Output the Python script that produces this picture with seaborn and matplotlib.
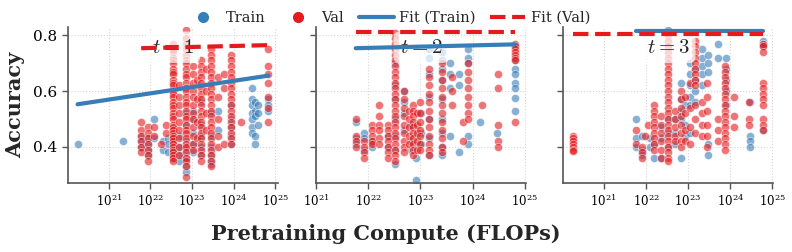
import numpy as np
import pandas as pd
import matplotlib
matplotlib.use("Agg")
import matplotlib.pyplot as plt
from matplotlib.lines import Line2D
import seaborn as sns

# each column is (log10 pretraining FLOPs, [accuracies of the models at that compute])
P1_TRAIN = [
    (20.25, [0.41]),
    (21.35, [0.42]),
    (21.78, [0.44, 0.42, 0.40]),
    (21.94, [0.43, 0.41, 0.39, 0.37]),
    (22.10, [0.50, 0.43]),
    (22.30, [0.42, 0.39]),
    (22.42, [0.43, 0.41, 0.38]),
    (22.54, [0.46, 0.43, 0.41, 0.39, 0.37, 0.36]),
    (22.70, [0.44, 0.40, 0.37, 0.35]),
    (22.86, [0.52, 0.48, 0.42, 0.39, 0.36, 0.33, 0.31]),
    (23.02, [0.53, 0.50, 0.45, 0.41, 0.38]),
    (23.22, [0.56, 0.48, 0.44, 0.40, 0.37]),
    (23.46, [0.52, 0.44, 0.40, 0.37, 0.35, 0.34]),
    (23.62, [0.53, 0.46]),
    (23.94, [0.55, 0.50, 0.47, 0.44, 0.41]),
    (24.45, [0.61, 0.57, 0.55, 0.52, 0.50, 0.47, 0.45]),
    (24.52, [0.56, 0.53, 0.51, 0.44, 0.41]),
    (24.60, [0.55, 0.52, 0.48]),
    (24.84, [0.57, 0.55, 0.53]),
]
P1_VAL = [
    (21.78, [0.49, 0.46, 0.44, 0.42, 0.40, 0.38]),
    (21.94, [0.47, 0.45, 0.43, 0.41, 0.39, 0.37, 0.35]),
    (22.10, [0.47, 0.44]),
    (22.26, [0.41]),
    (22.38, [0.48, 0.45]),
    (22.54, [0.77, 0.75, 0.74, 0.72, 0.71, 0.70, 0.68, 0.67, 0.66, 0.64, 0.63, 0.62,
             0.60, 0.59, 0.58, 0.56, 0.55, 0.54, 0.52, 0.51, 0.50, 0.48, 0.47, 0.46,
             0.45, 0.44, 0.43, 0.42, 0.41, 0.40, 0.39, 0.38, 0.37, 0.36, 0.35]),
    (22.70, [0.62, 0.58, 0.55, 0.52, 0.49, 0.46, 0.43, 0.40, 0.37]),
    (22.86, [0.82, 0.79, 0.77, 0.75, 0.73, 0.71, 0.70, 0.68, 0.66, 0.65, 0.63, 0.61,
             0.60, 0.58, 0.56, 0.55, 0.53, 0.51, 0.50, 0.48, 0.46, 0.45, 0.43, 0.41,
             0.40, 0.38, 0.36, 0.35, 0.33, 0.29]),
    (23.02, [0.69, 0.66, 0.63, 0.60, 0.58, 0.55, 0.52, 0.50, 0.47, 0.44, 0.41, 0.39]),
    (23.12, [0.64, 0.57, 0.49, 0.43]),
    (23.22, [0.71, 0.69, 0.67, 0.65, 0.63, 0.61, 0.59, 0.57, 0.55, 0.53, 0.51, 0.49,
             0.47, 0.45, 0.43, 0.41, 0.39, 0.37, 0.35]),
    (23.34, [0.68, 0.60, 0.52, 0.46]),
    (23.46, [0.75, 0.73, 0.71, 0.69, 0.67, 0.65, 0.63, 0.61, 0.59, 0.57, 0.55, 0.53,
             0.51, 0.49, 0.47, 0.45, 0.43, 0.41, 0.39, 0.37, 0.35, 0.33]),
    (23.62, [0.65, 0.58, 0.50, 0.44, 0.40]),
    (23.78, [0.66, 0.61, 0.41]),
    (23.94, [0.73, 0.71, 0.69, 0.67, 0.65, 0.63, 0.61, 0.59, 0.57, 0.55, 0.53, 0.51,
             0.49, 0.47, 0.45, 0.43, 0.41]),
    (24.18, [0.49]),
    (24.84, [0.75, 0.69, 0.66, 0.63, 0.58, 0.54, 0.49]),
]

P2_TRAIN = [
    (21.76, [0.49, 0.43, 0.41]),
    (21.92, [0.45, 0.43, 0.39]),
    (22.08, [0.42, 0.40]),
    (22.37, [0.44, 0.40]),
    (22.52, [0.70, 0.62, 0.57, 0.50, 0.44, 0.39, 0.34]),
    (22.68, [0.60, 0.56, 0.52, 0.46]),
    (22.82, [0.48, 0.42, 0.39]),
    (22.92, [0.36, 0.28]),
    (23.02, [0.52, 0.45, 0.41]),
    (23.16, [0.75, 0.72, 0.66, 0.58, 0.50, 0.43, 0.37]),
    (23.41, [0.74, 0.71, 0.68, 0.64, 0.57, 0.50, 0.45, 0.40, 0.37]),
    (23.57, [0.70, 0.66, 0.61, 0.44]),
    (23.73, [0.66, 0.62, 0.38]),
    (23.92, [0.75, 0.72, 0.70, 0.44, 0.41]),
    (24.14, [0.49]),
    (24.46, [0.45]),
    (24.81, [0.76, 0.71, 0.68, 0.66, 0.63, 0.61, 0.575, 0.53]),
]
P2_VAL = [
    (21.76, [0.50, 0.44, 0.42, 0.40]),
    (21.92, [0.42, 0.40, 0.38, 0.36]),
    (22.08, [0.48, 0.46, 0.44, 0.42, 0.41]),
    (22.21, [0.55, 0.51, 0.48, 0.46, 0.43, 0.41]),
    (22.37, [0.48, 0.46, 0.44, 0.42, 0.40, 0.38, 0.36]),
    (22.52, [0.81, 0.79, 0.77, 0.75, 0.73, 0.71, 0.69, 0.67, 0.65, 0.63, 0.61, 0.59,
             0.57, 0.55, 0.53, 0.51, 0.49, 0.47, 0.45, 0.43, 0.41, 0.39, 0.37, 0.35]),
    (22.68, [0.60, 0.57, 0.54, 0.51, 0.48, 0.45, 0.42, 0.40, 0.38]),
    (22.78, [0.53, 0.50, 0.47, 0.44, 0.41]),
    (22.85, [0.55, 0.53, 0.51, 0.49, 0.47, 0.45, 0.43, 0.41, 0.39, 0.37]),
    (22.93, [0.52, 0.48, 0.45, 0.42, 0.39]),
    (23.00, [0.56, 0.52, 0.49, 0.46, 0.44, 0.41, 0.39]),
    (23.16, [0.68, 0.65, 0.62, 0.59, 0.56, 0.53, 0.50, 0.47, 0.44, 0.41, 0.39, 0.37]),
    (23.41, [0.70, 0.67, 0.64, 0.61, 0.58, 0.55, 0.52, 0.49, 0.46, 0.43, 0.40, 0.38]),
    (23.60, [0.65, 0.60, 0.55]),
    (23.82, [0.49, 0.42]),
    (23.92, [0.70, 0.67, 0.64, 0.61, 0.58, 0.55, 0.52, 0.50]),
    (24.17, [0.55]),
    (24.49, [0.66, 0.61, 0.48, 0.42, 0.40]),
    (24.81, [0.77, 0.76, 0.75, 0.74, 0.73, 0.72, 0.71, 0.49]),
]

P3_TRAIN = [
    (21.77, [0.50, 0.43, 0.40]),
    (21.90, [0.44, 0.39, 0.37]),
    (22.10, [0.43, 0.40]),
    (22.20, [0.41, 0.36]),
    (22.37, [0.47, 0.43, 0.36]),
    (22.52, [0.82, 0.50, 0.45, 0.40]),
    (22.68, [0.50, 0.45, 0.41]),
    (22.84, [0.63, 0.57, 0.53, 0.50, 0.36]),
    (22.94, [0.55, 0.48, 0.44]),
    (23.04, [0.70, 0.66, 0.62, 0.58, 0.55, 0.45]),
    (23.16, [0.68, 0.64, 0.60, 0.56]),
    (23.32, [0.75, 0.72, 0.69, 0.66, 0.62]),
    (23.48, [0.73, 0.70, 0.67, 0.41, 0.37]),
    (23.71, [0.77, 0.72]),
    (23.90, [0.72, 0.68, 0.64, 0.60, 0.55]),
    (24.47, [0.56, 0.44, 0.42, 0.40]),
    (24.79, [0.78, 0.77, 0.76, 0.46]),
]
P3_VAL = [
    (20.26, [0.44, 0.43, 0.42, 0.41, 0.40, 0.39, 0.385]),
    (21.77, [0.46, 0.41]),
    (21.90, [0.40, 0.38, 0.36]),
    (21.97, [0.44]),
    (22.06, [0.48]),
    (22.20, [0.55, 0.53, 0.51, 0.49, 0.47, 0.45, 0.43, 0.41, 0.39]),
    (22.37, [0.51, 0.48, 0.45, 0.42, 0.39, 0.36]),
    (22.52, [0.80, 0.78, 0.76, 0.74, 0.72, 0.70, 0.68, 0.66, 0.64, 0.62, 0.60, 0.58,
             0.56, 0.54, 0.52, 0.50, 0.48, 0.46, 0.44, 0.42, 0.40, 0.38, 0.36, 0.35]),
    (22.68, [0.53, 0.50, 0.47, 0.44, 0.42]),
    (22.84, [0.60, 0.57, 0.54, 0.51, 0.48, 0.45, 0.42, 0.40]),
    (22.94, [0.58, 0.52, 0.46, 0.42]),
    (23.04, [0.63, 0.54, 0.47, 0.41]),
    (23.16, [0.78, 0.76, 0.74, 0.72, 0.70, 0.68, 0.66, 0.64, 0.62, 0.55, 0.50, 0.45]),
    (23.32, [0.56, 0.52, 0.48, 0.44]),
    (23.44, [0.63, 0.58, 0.53, 0.48, 0.44, 0.40]),
    (23.71, [0.50, 0.46, 0.42]),
    (23.87, [0.69, 0.67, 0.65, 0.63, 0.61, 0.59, 0.57, 0.55, 0.53, 0.51, 0.49, 0.47,
             0.45, 0.43, 0.41, 0.39]),
    (24.10, [0.58, 0.51, 0.47]),
    (24.45, [0.56, 0.50, 0.48]),
    (24.79, [0.77, 0.76, 0.74, 0.63, 0.61, 0.59, 0.57, 0.55, 0.50, 0.48, 0.46]),
]

# fitted trend: acc = a + b * (log10(C) - 20)
FIT_TRAIN = [(0.547, 0.0224), (0.746, 0.0045), (0.814, 0.0)]
FIT_VAL = [(0.7475, 0.0036), (0.811, 0.0), (0.805, 0.0)]

PANEL_LABELS = ["$t=1$", "$t=2$", "$t=3$"]
PANEL_XLIMS = [None, (1e21, 1.05e25), None]

TRAIN_COLOR = "#377eb8"
VAL_COLOR = "#e41a1c"


def to_frame(columns):
    rows = [(10 ** lx, acc) for lx, accs in columns for acc in accs]
    return pd.DataFrame(rows, columns=["compute", "accuracy"])


def fit_line(columns, params):
    lx = np.array([c[0] for c in columns])
    xs = np.linspace(lx.min(), lx.max(), 50)
    a, b = params
    return 10 ** xs, a + b * (xs - 20)


sns.set_style("ticks")
plt.rcParams["font.family"] = ["DejaVu Serif"]
plt.rcParams["mathtext.fontset"] = "cm"
plt.rcParams["axes.edgecolor"] = "#555555"
plt.rcParams["xtick.color"] = "#555555"
plt.rcParams["ytick.color"] = "#555555"
plt.rcParams["xtick.labelcolor"] = "black"
plt.rcParams["ytick.labelcolor"] = "black"

fig = plt.figure(figsize=(7.92, 2.52), dpi=100)
lefts = [68 / 792, 316 / 792, 563 / 792]
axes = []
for left in lefts:
    ax = fig.add_axes([left, 1 - 183 / 252, 210 / 792, 156 / 252],
                      sharey=axes[0] if axes else None)
    axes.append(ax)

panels = [(P1_TRAIN, P1_VAL), (P2_TRAIN, P2_VAL), (P3_TRAIN, P3_VAL)]
for i, (ax, (train, val)) in enumerate(zip(axes, panels)):
    tr = to_frame(train)
    va = to_frame(val)
    sns.scatterplot(data=tr, x="compute", y="accuracy", ax=ax, color=TRAIN_COLOR,
                    s=34, alpha=0.6, edgecolor="white", linewidth=0.5, zorder=2)
    sns.scatterplot(data=va, x="compute", y="accuracy", ax=ax, color=VAL_COLOR,
                    s=34, alpha=0.6, edgecolor="white", linewidth=0.5, zorder=2)
    ax.set_xscale("log")

    fx, fy = fit_line(train, FIT_TRAIN[i])
    ax.plot(fx, fy, color=TRAIN_COLOR, lw=3, zorder=5)
    fx, fy = fit_line(val, FIT_VAL[i])
    ax.plot(fx, fy, color=VAL_COLOR, lw=3, ls="--", zorder=5)

    if PANEL_XLIMS[i] is not None:
        ax.set_xlim(*PANEL_XLIMS[i])
    ax.set_ylim(0.27, 0.83)
    ax.set_yticks([0.4, 0.6, 0.8])
    ax.xaxis.set_minor_locator(matplotlib.ticker.NullLocator())
    ax.grid(True, ls=":", color="#d5d5d5", lw=0.8, zorder=0)
    ax.set_axisbelow(True)
    ax.tick_params(axis="x", labelsize=8.5, length=4, width=1)
    ax.tick_params(axis="y", labelsize=11, length=4, width=1)
    for side in ["top", "right"]:
        ax.spines[side].set_visible(False)
    for side in ["left", "bottom"]:
        ax.spines[side].set_linewidth(1.2)
    ax.set_xlabel("")
    ax.set_ylabel("")
    if i > 0:
        plt.setp(ax.get_yticklabels(), visible=False)

    ax.text(0.5, 0.87, PANEL_LABELS[i], transform=ax.transAxes, ha="center", va="center",
            fontsize=15, zorder=4,
            bbox=dict(boxstyle="round,pad=0.3", facecolor="white", edgecolor="none", alpha=0.7))

axes[0].set_ylabel("Accuracy", fontsize=15, fontweight="bold", labelpad=6)
fig.text(386 / 792, 1 - 234 / 252, "Pretraining Compute (FLOPs)", ha="center", va="center",
         fontsize=15, fontweight="bold")

handles = [
    Line2D([], [], marker="o", ls="", color=TRAIN_COLOR, markersize=7),
    Line2D([], [], marker="o", ls="", color=VAL_COLOR, markersize=7),
    Line2D([], [], color=TRAIN_COLOR, lw=3),
    Line2D([], [], color=VAL_COLOR, lw=3, ls="--"),
]
fig.legend(handles, ["Train", "Val", "Fit (Train)", "Fit (Val)"], loc="center",
           bbox_to_anchor=(388 / 792, 1 - 18 / 252), ncol=4, frameon=False, fontsize=10.5,
           handlelength=2.4, handletextpad=0.4, columnspacing=1.0)

fig.savefig("out.png", dpi=100)
